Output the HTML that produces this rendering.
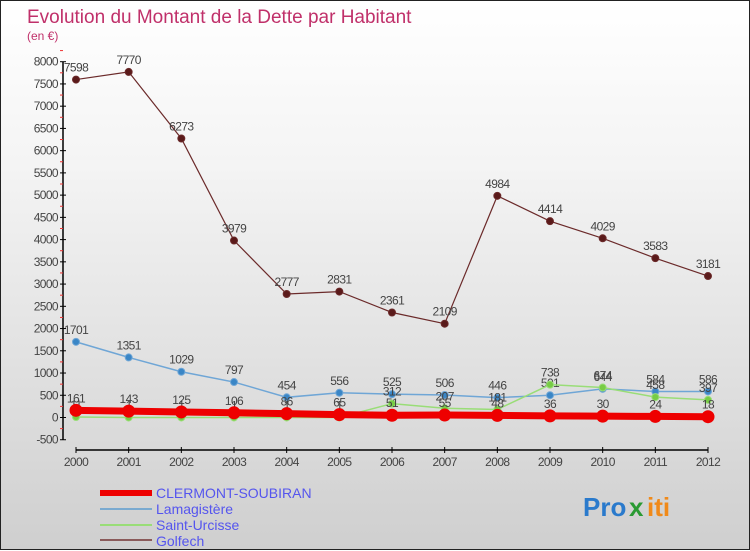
<!DOCTYPE html>
<html><head><meta charset="utf-8"><style>
html,body{margin:0;padding:0}
body{width:750px;height:550px;overflow:hidden;font-family:"Liberation Sans",sans-serif}
#wrap{position:relative;width:748px;height:548px;border:1px solid #222;background:linear-gradient(#ffffff,#f4f4f4 30%,#cfcfcf)}
svg{position:absolute;left:0;top:0}
</style></head><body>
<div id="wrap">
<svg id="c" width="750" height="550">
<text x="26" y="22" font-size="19" fill="#c0306a">Evolution du Montant de la Dette par Habitant</text>
<text x="26" y="39" font-size="12" fill="#c0306a">(en €)</text>
<g id="axes"></g><g id="series"></g>
<g>
<rect x="99" y="489" width="52" height="6" fill="#e00"/>
<text x="155" y="497" font-size="14" fill="#5555ee">CLERMONT-SOUBIRAN</text>
<line x1="99" y1="508" x2="151" y2="508" stroke="#7aaad0" stroke-width="2"/>
<text x="155" y="513" font-size="14" fill="#5555ee">Lamagistère</text>
<line x1="99" y1="524" x2="151" y2="524" stroke="#99dd77" stroke-width="2"/>
<text x="155" y="529" font-size="14" fill="#5555ee">Saint-Urcisse</text>
<line x1="99" y1="539" x2="151" y2="539" stroke="#8a5a5a" stroke-width="2"/>
<text x="155" y="545" font-size="14" fill="#5555ee">Golfech</text>
</g>
<g font-size="26" font-weight="bold">
<text x="582" y="515" fill="#2a7acc">Pro</text><text x="628" y="515" fill="#2a9a33">x</text><text x="646" y="515" fill="#f08a1a">iti</text>
</g>
</svg></div>
<script>
const years=[2000,2001,2002,2003,2004,2005,2006,2007,2008,2009,2010,2011,2012];
const clermont=[161,143,125,106,86,65,51,55,48,36,30,24,18];
const lamagistere=[1701,1351,1029,797,454,556,525,506,446,501,644,584,586];
const saintUrcisse=[11,1,1,1,1,1,312,207,181,738,674,458,397];
const golfech=[7598,7770,6273,3979,2777,2831,2361,2109,4984,4414,4029,3583,3181];
const yTicks=[-500,0,500,1000,1500,2000,2500,3000,3500,4000,4500,5000,5500,6000,6500,7000,7500,8000];
const NS="http://www.w3.org/2000/svg";
function X(i){return 75+i*(707-75)/(years.length-1);}
function Y(v){return 416.5-v*(416.5-60.7)/8000;}
function mk(t,a,p){const e=document.createElementNS(NS,t);for(const k in a)e.setAttribute(k,a[k]);p.appendChild(e);return e;}
const ax=document.getElementById('axes');
const yl=mk('line',{x1:62,y1:Y(8000),x2:62,y2:Y(-500),stroke:'#000','stroke-width':1.5},ax);


yTicks.forEach(v=>{
 mk('line',{x1:59,y1:Y(v),x2:65,y2:Y(v),stroke:'#000'},ax);
 mk('line',{x1:59,y1:Y(v+250),x2:62,y2:Y(v+250),stroke:'#e33'},ax);
 const t=mk('text',{x:57,y:Y(v)+4,'font-size':12,fill:'#444','text-anchor':'end','letter-spacing':'-0.6'},ax);
 t.textContent=v;
 
 
});
const xl=mk('line',{x1:75,y1:449,x2:707,y2:449,stroke:'#000','stroke-width':1.5},ax);


years.forEach((y,i)=>{
 mk('line',{x1:X(i),y1:446,x2:X(i),y2:452,stroke:'#000'},ax);
 const t=mk('text',{x:X(i),y:465,'font-size':12,fill:'#444','text-anchor':'middle','letter-spacing':'-0.6'},ax);
 t.textContent=y;
 
 
});
const sg=document.getElementById('series');
function draw(vals,name,color,lw,r,fill){
 const g=mk('g',{},sg);
 
 
 const pl=mk('polyline',{points:vals.map((v,i)=>X(i)+','+Y(v)).join(' '),fill:'none',stroke:color,'stroke-width':lw},g);
 
 
 vals.forEach((v,i)=>{
  const c=mk('circle',{cx:X(i),cy:Y(v),r:r,fill:fill,stroke:color,'stroke-width':1},g);
  
  
  const t=mk('text',{x:X(i),y:Y(v)-8,'font-size':12,fill:'#444','text-anchor':'middle','letter-spacing':'-0.6'},g);
  t.textContent=v;
  
  
 });
}
draw(golfech,'golfech','#6b2a2a',1.2,3.5,'#5a1a1a');
draw(lamagistere,'lamagistere','#6fa6d6',1.5,3.5,'#3a86c6');
draw(saintUrcisse,'saint-urcisse','#99dd77',1.5,3.5,'#77cc44');
draw(clermont,'clermont-soubiran','#ee0000',7,6,'#ee0000');
</script>
</body></html>
